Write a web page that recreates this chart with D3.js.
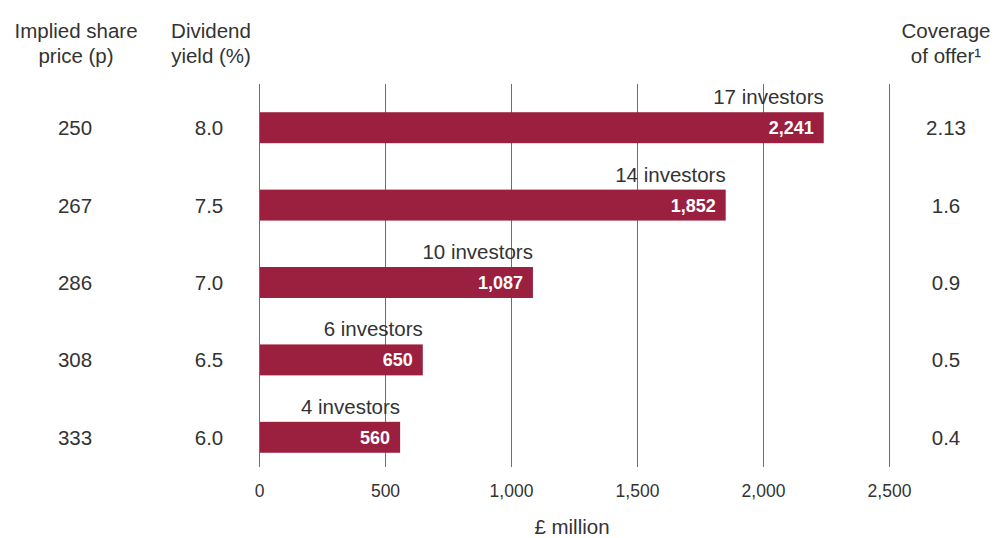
<!DOCTYPE html>
<html>
<head>
<meta charset="utf-8">
<script src="https://cdn.jsdelivr.net/npm/d3@7"></script>
<style>
  html, body { margin: 0; padding: 0; background: #fff; }
  svg text { font-family: "Liberation Sans", Arial, sans-serif; fill: #333; }
</style>
</head>
<body>
<svg id="chart" width="996" height="538"></svg>
<script>
// Bookbuild demand at each price point
const sharePrices = ["250", "267", "286", "308", "333"];
const dividendYields = ["8.0", "7.5", "7.0", "6.5", "6.0"];
const demand = [2241, 1852, 1087, 650, 560];
const investors = [17, 14, 10, 6, 4];
const coverage = ["2.13", "1.6", "0.9", "0.5", "0.4"];
const xTicks = [0, 500, 1000, 1500, 2000, 2500];

const svg = d3.select("#chart");
const barColor = "#9b2040";

const x = d3.scaleLinear().domain([0, 2500]).range([259, 889]);
const y = d3.scaleBand().domain(d3.range(demand.length)).range([89, 476]).paddingInner(0.6).paddingOuter(0.3);

const fmt = d3.format(",");

// vertical gridlines
svg.append("g").selectAll("line").data(xTicks).join("line")
  .attr("x1", d => x(d) + 0.5).attr("x2", d => x(d) + 0.5)
  .attr("y1", 84).attr("y2", 467)
  .attr("stroke", "#6e6e6e").attr("stroke-width", 1);

// x axis labels
const axis = d3.axisBottom(x).tickValues(xTicks).tickFormat(fmt).tickSize(0).tickPadding(0);
const gAxis = svg.append("g").attr("transform", "translate(0,485)").call(axis);
gAxis.select(".domain").remove();
gAxis.selectAll("text").attr("font-size", 17.5).attr("fill", "#333")
  .style("font-family", "'Liberation Sans', Arial, sans-serif");

svg.append("text").attr("x", 572).attr("y", 534).attr("text-anchor", "middle")
  .attr("font-size", 20.5).text("£ million");

// column headers
const headers = [
  { x: 76, lines: ["Implied share", "price (p)"] },
  { x: 211, lines: ["Dividend", "yield (%)"] },
  { x: 946, lines: ["Coverage", "of offer¹"] }
];
headers.forEach(h => {
  svg.append("text").attr("text-anchor", "middle").attr("font-size", 20.5)
    .selectAll("tspan").data(h.lines).join("tspan")
    .attr("x", h.x).attr("y", (d, i) => 38 + i * 25).text(d => d);
});

const rows = d3.range(demand.length);
const cy = i => y(i) + y.bandwidth() / 2;

// bars
svg.append("g").selectAll("rect").data(rows).join("rect")
  .attr("x", x(0) + 1).attr("y", i => y(i))
  .attr("width", i => x(demand[i]) - x(0) - 1).attr("height", y.bandwidth())
  .attr("fill", barColor);

// values inside bars
svg.append("g").selectAll("text").data(rows).join("text")
  .attr("x", i => x(demand[i]) - 10).attr("y", i => cy(i) + 6.5)
  .attr("text-anchor", "end").attr("font-size", 18).attr("font-weight", "bold")
  .style("fill", "#fff").text(i => fmt(demand[i]));

// investor counts above bars
svg.append("g").selectAll("text").data(rows).join("text")
  .attr("x", i => x(demand[i])).attr("y", i => y(i) - 8)
  .attr("text-anchor", "end").attr("font-size", 20.5)
  .text(i => `${investors[i]} investors`);

// side columns
const sideCol = (vals, cx) => svg.append("g").selectAll("text").data(rows).join("text")
  .attr("x", cx).attr("y", i => cy(i) + 7.5)
  .attr("text-anchor", "middle").attr("font-size", 20.5).text(i => vals[i]);
sideCol(sharePrices, 75);
sideCol(dividendYields, 209);
sideCol(coverage, 946);
</script>
</body>
</html>
